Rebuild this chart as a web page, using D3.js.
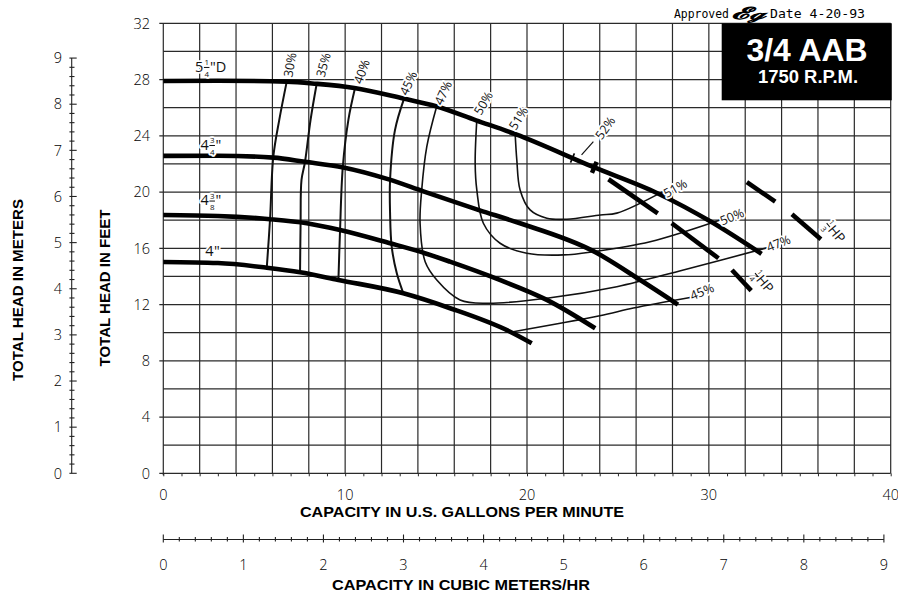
<!DOCTYPE html>
<html><head><meta charset="utf-8">
<script src="https://cdn.jsdelivr.net/npm/d3@7/dist/d3.min.js"></script>
<style>body{margin:0;background:#fff}svg{display:block}</style>
</head><body>
<svg id="c" width="898" height="594"></svg>
<script>
// ---------- data ----------
const gpmLabels = [0, 10, 20, 30, 40];
const feetLabels = [0, 4, 8, 12, 16, 20, 24, 28, 32];
const meterLabels = [0, 1, 2, 3, 4, 5, 6, 7, 8, 9];
const cubicLabels = [0, 1, 2, 3, 4, 5, 6, 7, 8, 9];

// impeller head-capacity curves [gpm, ft]
const head525 = [[0,27.9],[3,27.92],[6.8,27.85],[8.4,27.7],[10.5,27.4],[13.2,26.65],[15.0,26.1],[17.2,25.1],[19.4,24.1],[23.6,21.8],[27.2,19.9],[30.1,17.9],[32.9,15.6]];
const head475 = [[0,22.57],[3,22.58],[6.05,22.45],[7.8,22.15],[9.9,21.75],[12.4,20.9],[14.3,20.05],[17.4,18.7],[19.45,17.85],[23.65,15.8],[26.4,13.6],[28.3,12.0]];
const head4375 = [[0,18.37],[3,18.3],[5.87,18.07],[7.89,17.78],[9.72,17.3],[12.47,16.36],[14.12,15.76],[15.76,15.05],[18.5,13.75],[21.09,12.33],[23.75,10.31]];
const head400 = [[0,15.03],[3,14.95],[5.69,14.62],[7.52,14.3],[9.63,13.75],[13.2,12.8],[15.77,11.74],[19.07,10.07],[20.26,9.25]];

// efficiency contours [gpm, ft]
const eff30 = [[6.79,27.87],[6.38,25.15],[6.05,22.52],[5.87,18.07],[5.69,14.62]];
const eff35 = [[8.44,27.74],[8.1,25.15],[7.79,22.12],[7.6,20.86],[7.55,17.8],[7.52,14.3]];
const eff40 = [[10.54,27.38],[10.18,25.15],[9.87,21.77],[9.72,17.3],[9.63,13.75]];
const eff45a = [[13.24,26.64],[12.74,24.4],[12.47,20.86],[12.47,18.51],[12.56,16.12],[12.84,14.22],[13.2,12.8]];
const eff45b = [[19.25,10.07],[24.0,11.2],[25.85,11.75],[28.97,12.5]];
const eff47 = [[15.04,26.12],[14.49,23.23],[14.21,20.15],[14.12,17.78],[14.4,15.05],[15.04,13.75],[16.32,12.33],[17.79,12.09],[21.09,12.45],[24.94,13.27],[28.6,14.46],[33.4,16.1]];
const eff50 = [[17.24,25.13],[17.15,22.05],[17.24,20.15],[17.6,17.78],[18.52,16.36],[19.99,15.65],[22.0,15.53],[23.65,15.76],[26.77,16.47],[30.7,18.05]];
const eff51 = [[19.35,24.11],[19.44,22.28],[19.62,20.15],[20.17,18.73],[21.09,18.14],[22.19,18.07],[24.03,18.37],[24.94,18.5],[27.5,20.05]];
const peak52 = [[22.5,22.42],[23.7,21.75]];
const leader52 = [[23.0,22.64],[23.65,23.58]];

// horsepower lines [gpm, ft]
const hpLines = [
  [[24.48,20.91],[27.19,18.49]],
  [[27.96,17.78],[30.53,15.29]],
  [[32.09,20.70],[33.65,19.32]],
  [[34.57,18.42],[36.16,16.64]],
  [[31.27,14.46],[32.33,12.99]]
];
const hpLabelText = [["1","4"],["1","3"]];
const hpLabelAt = [[33.0,13.63],[36.94,17.18]];

// efficiency labels
const effLabelText = ["30%","35%","40%","45%","47%","50%","51%","52%","51%","50%","47%","45%"];
const effLabelAt = [[6.97,29.04],[8.8,29.04],[10.91,28.56],[13.48,27.74],[15.39,27.05],[17.6,26.32],[19.53,25.25],[24.3,24.56],[28.15,20.27],[31.27,18.25],[33.83,16.36],[29.62,12.92]];
const effLabelAngle = [-80,-75,-70,-65,-65,-60,-58,-55,-30,-22,-22,-22];

// impeller diameter labels: whole, num, den, suffix, [gpm, ft] of baseline start
const diaText = [["5","1","4","\"D"],["4","3","4","\""],["4","3","8","\""],["4","","","\""]];
const diaAt = [[1.75,28.55],[2.05,23.0],[2.05,19.05],[2.3,15.45]];

// ---------- layout ----------
const svg = d3.select("#c");
const x = d3.scaleLinear().domain([0,40]).range([163.3,890.7]);
const y = d3.scaleLinear().domain([0,32]).range([473.3,23.3]);
const yM = d3.scaleLinear().domain([0,9]).range([y(0), y(9*3.28084)]);
const xC = d3.scaleLinear().domain([0,9]).range([x(0), x(9*4.40287)]);
const FONT = "'Open Sans', 'DejaVu Sans', sans-serif";
const BOLD = "'Liberation Sans', Arial, sans-serif";

const contour = d3.line().x(d=>x(d[0])).y(d=>y(d[1])).curve(d3.curveCatmullRom.alpha(0.5));
const curve = d3.line().x(d=>x(d[0])).y(d=>y(d[1])).curve(d3.curveMonotoneX);

// grid
const grid = svg.append("g").attr("stroke","#2a2a2a").attr("stroke-width",1.2);
grid.selectAll(".v").data(d3.range(0,41,2)).join("line")
  .attr("x1",d=>x(d)).attr("x2",d=>x(d)).attr("y1",y(32)).attr("y2",d=>d===0?y(0)+2:y(0));
grid.selectAll(".h").data(d3.range(0,33,2)).join("line")
  .attr("y1",d=>y(d)).attr("y2",d=>y(d)).attr("x1",d=>d%4===0?x(0)-4:x(0)).attr("x2",x(40));

// bottom gpm axis minor ticks + labels
const xAxis = d3.axisBottom(x).tickValues(d3.range(0,41,1)).tickSize(3).tickFormat("");
const gx = svg.append("g").attr("transform",`translate(0,${y(0)})`).call(xAxis);
gx.select(".domain").remove();
gx.selectAll(".tick line").attr("stroke","#2a2a2a").attr("stroke-width",1);
svg.append("g").selectAll("text").data(gpmLabels).join("text")
  .attr("x",d=>x(d)).attr("y",500).attr("text-anchor","middle")
  .attr("font-family",FONT).attr("font-size",14.5).attr("font-weight",300).text(d=>d);

// feet labels
svg.append("g").selectAll("text").data(feetLabels).join("text")
  .attr("x",150).attr("y",d=>y(d)).attr("dy","0.36em").attr("text-anchor","end")
  .attr("font-family",FONT).attr("font-size",14.5).attr("font-weight",300).text(d=>d);

// meters axis
const mx = 71.7;
const gm = svg.append("g").attr("stroke","#222").attr("stroke-width",1.1);
gm.append("line").attr("x1",mx).attr("x2",mx).attr("y1",yM(0)).attr("y2",yM(9));
gm.selectAll(".t").data(d3.range(0,45+1).map(i=>i/5)).join("line")
  .attr("x1",mx-2.3).attr("x2",(d,i)=>i%5===0?mx+5:mx+2.8)
  .attr("y1",d=>yM(d)).attr("y2",d=>yM(d));
svg.append("g").selectAll("text").data(meterLabels).join("text")
  .attr("x",58).attr("y",d=>yM(d)).attr("dy","0.36em").attr("text-anchor","middle")
  .attr("font-family",FONT).attr("font-size",14.5).attr("font-weight",300).text(d=>d);

// cubic meters axis
const cy = 539.5;
const gc = svg.append("g").attr("stroke","#222").attr("stroke-width",1.1);
gc.append("line").attr("x1",xC(0)).attr("x2",xC(9)).attr("y1",cy).attr("y2",cy);
gc.selectAll(".t").data(d3.range(0,45+1).map(i=>i/5)).join("line")
  .attr("x1",d=>xC(d)).attr("x2",d=>xC(d))
  .attr("y1",(d,i)=>i%5===0?cy-5:cy-2.5).attr("y2",(d,i)=>i%5===0?cy+3:cy+2);
svg.append("g").selectAll("text").data(cubicLabels).join("text")
  .attr("x",d=>xC(d)).attr("y",570).attr("text-anchor","middle")
  .attr("font-family",FONT).attr("font-size",14.5).attr("font-weight",300).text(d=>d);

// axis titles
function title(t, xx, yy, len, rot){
  const e = svg.append("text").attr("font-family",BOLD).attr("font-weight","bold").attr("font-size",15)
    .attr("text-anchor","middle").attr("textLength",len).attr("lengthAdjust","spacingAndGlyphs").text(t);
  if(rot) e.attr("transform",`translate(${xx},${yy}) rotate(-90)`); else e.attr("x",xx).attr("y",yy);
}
title("CAPACITY IN U.S. GALLONS PER MINUTE", 462, 517, 324);
title("CAPACITY IN CUBIC METERS/HR", 461, 590, 258);
title("TOTAL HEAD IN METERS", 23, 290, 182, true);
title("TOTAL HEAD IN FEET", 110, 288, 157, true);

// efficiency contours
const effG = svg.append("g").attr("fill","none").attr("stroke","#111");
[eff30,eff35,eff40,eff45a].forEach(d=>effG.append("path").attr("d",contour(d)).attr("stroke-width",2));
[eff47,eff50,eff51,eff45b].forEach(d=>effG.append("path").attr("d",contour(d)).attr("stroke-width",1.6));
effG.append("path").attr("d",d3.line().x(d=>x(d[0])).y(d=>y(d[1]))(leader52)).attr("stroke-width",1.2);

// impeller curves
const hG = svg.append("g").attr("fill","none").attr("stroke","#000").attr("stroke-width",4.6);
[head525,head475,head4375,head400].forEach(d=>hG.append("path").attr("d",curve(d)));

// 52% peak marks (perpendicular to 5 1/4 curve)
peak52.forEach((p,i)=>{
  const px=x(p[0]), py=y(p[1]);
  const ang = Math.atan2(y(head525[9][1])-y(head525[8][1]), x(head525[9][0])-x(head525[8][0]));
  const nx=-Math.sin(ang), ny=Math.cos(ang), L=i===0?5:6;
  svg.append("line").attr("x1",px-nx*L).attr("y1",py-ny*L).attr("x2",px+nx*L).attr("y2",py+ny*L)
    .attr("stroke","#000").attr("stroke-width",i===0?1.6:4.5);
});

// HP lines
svg.append("g").selectAll("path").data(hpLines).join("path")
  .attr("d",d3.line().x(d=>x(d[0])).y(d=>y(d[1])))
  .attr("stroke","#000").attr("stroke-width",4.6).attr("fill","none");

// halo helper
function halo(sel){ return sel.attr("stroke","#fff").attr("stroke-width",3.5).attr("paint-order","stroke").attr("stroke-linejoin","round"); }

// efficiency labels
effLabelText.forEach((t,i)=>{
  const [g,h]=effLabelAt[i];
  halo(svg.append("text").attr("transform",`translate(${x(g)},${y(h)}) rotate(${effLabelAngle[i]})`)
    .attr("text-anchor","middle").attr("dy","0.36em")
    .attr("font-family",FONT).attr("font-size",12.5).attr("font-weight",400).attr("fill","#111").text(t));
});

// stacked-fraction label helper
function fracLabel(parent, whole, num, den, suffix, size){
  const g = parent.append("g").attr("font-family",FONT).attr("font-weight",400).attr("fill","#111");
  let cx = 0;
  if(whole){ const t=halo(g.append("text").attr("font-size",size).text(whole)); cx += t.node().getComputedTextLength()+0.5; }
  if(num){
    const fs=size*0.55;
    const n=halo(g.append("text").attr("font-size",fs).text(num).attr("y",-size*0.44));
    const d=halo(g.append("text").attr("font-size",fs).text(den).attr("y",size*0.34));
    const w=Math.max(n.node().getComputedTextLength(), d.node().getComputedTextLength())+1;
    n.attr("x",cx+w/2).attr("text-anchor","middle");
    d.attr("x",cx+w/2).attr("text-anchor","middle");
    g.append("line").attr("x1",cx).attr("x2",cx+w).attr("y1",-size*0.3).attr("y2",-size*0.3)
      .attr("stroke","#111").attr("stroke-width",1);
    cx += w+0.5;
  }
  const s = halo(g.append("text").attr("font-size",size).attr("x",cx).text(suffix));
  return {g, w: cx + s.node().getComputedTextLength()};
}

diaText.forEach((d,i)=>{
  const r = fracLabel(svg, d[0], d[1], d[2], d[3], 14.5);
  r.g.attr("transform",`translate(${x(diaAt[i][0])},${y(diaAt[i][1])})`);
});

hpLabelText.forEach((d,i)=>{
  const r = fracLabel(svg, "", d[0], d[1], "HP", 13.5);
  r.g.attr("transform",`translate(${x(hpLabelAt[i][0])},${y(hpLabelAt[i][1])}) rotate(50) translate(${-r.w/2},5)`);
});

// title box
svg.append("rect").attr("x",721.7).attr("y",23.3).attr("width",170).attr("height",77).attr("fill","#000");
svg.append("text").attr("x",807).attr("y",61).attr("text-anchor","middle").attr("fill","#fff")
  .attr("font-family",BOLD).attr("font-weight","bold").attr("font-size",31)
  .attr("textLength",121).attr("lengthAdjust","spacingAndGlyphs").text("3/4 AAB");
svg.append("text").attr("x",808).attr("y",83).attr("text-anchor","middle").attr("fill","#fff")
  .attr("font-family",BOLD).attr("font-weight","bold").attr("font-size",17.5)
  .attr("textLength",100).attr("lengthAdjust","spacingAndGlyphs").text("1750 R.P.M.");

// approval line
svg.append("text").attr("x",674).attr("y",17.5).attr("font-family","'DejaVu Sans Mono', monospace")
  .attr("font-size",11.5).attr("textLength",55).attr("lengthAdjust","spacingAndGlyphs").text("Approved");
svg.append("text").attr("x",731).attr("y",19).attr("font-family","'DejaVu Serif', serif")
  .attr("font-style","italic").attr("font-weight","bold").attr("font-size",17).attr("textLength",34)
  .attr("lengthAdjust","spacingAndGlyphs").text("𝓔ℊ");
svg.append("text").attr("x",770).attr("y",17.5).attr("font-family","'DejaVu Sans Mono', monospace")
  .attr("font-size",11.5).attr("textLength",95).attr("lengthAdjust","spacingAndGlyphs").text("Date 4-20-93");
</script>
</body></html>
